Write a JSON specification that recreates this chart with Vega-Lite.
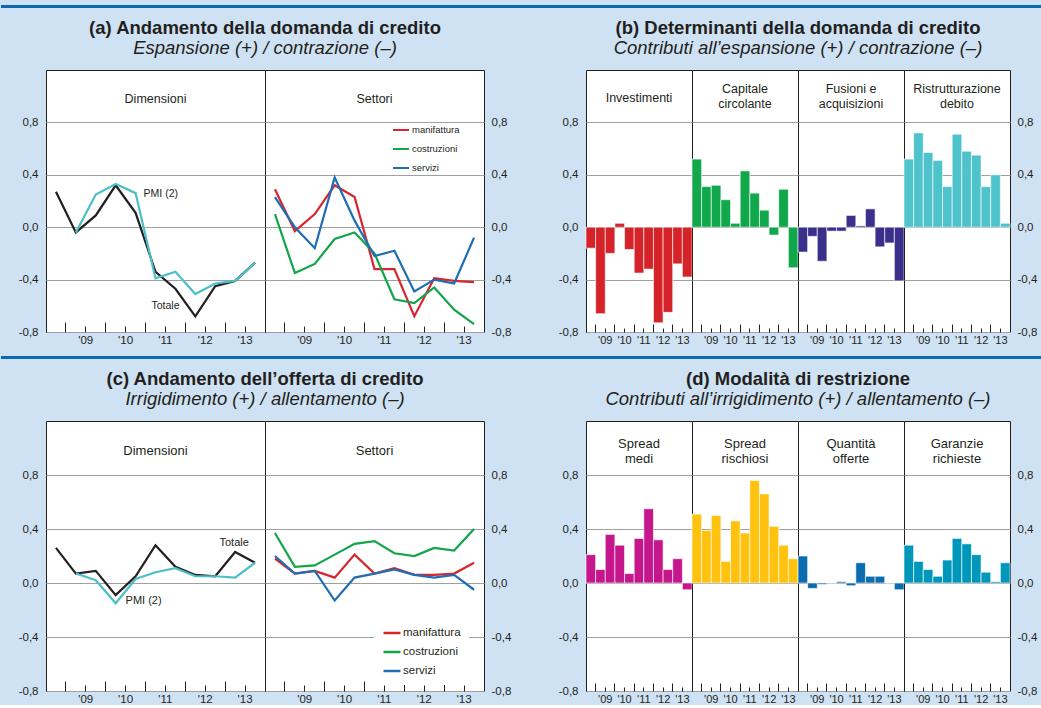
{
"$schema": "https://vega.github.io/schema/vega-lite/v6.json",
"background": "#cfe2f3",
"padding": {"left": 0, "right": 0, "top": 5, "bottom": 0},
"config": {
  "font": "Liberation Sans",
  "view": {"stroke": "#231f20", "strokeWidth": 1, "fill": "#ffffff"},
  "axis": {"labelColor": "#231f20", "labelFont": "Liberation Sans", "gridColor": "#a0a0a0", "gridWidth": 1, "tickColor": "#231f20", "tickWidth": 1},
  "text": {"color": "#231f20", "font": "Liberation Sans"},
  "legend": {"labelColor": "#231f20", "labelFont": "Liberation Sans"},
  "title": {"color": "#231f20", "subtitleColor": "#231f20", "font": "Liberation Sans", "subtitleFont": "Liberation Sans"}
},
"resolve": {"scale": {"color": "independent"}, "legend": {"color": "independent"}},
"datasets": {
  "a_dim": [
    {"s": "Totale", "t": 2008.75, "v": 0.27}, {"s": "Totale", "t": 2009.25, "v": -0.04}, {"s": "Totale", "t": 2009.75, "v": 0.09}, {"s": "Totale", "t": 2010.25, "v": 0.32}, {"s": "Totale", "t": 2010.75, "v": 0.11}, {"s": "Totale", "t": 2011.25, "v": -0.34}, {"s": "Totale", "t": 2011.75, "v": -0.47}, {"s": "Totale", "t": 2012.25, "v": -0.68}, {"s": "Totale", "t": 2012.75, "v": -0.45}, {"s": "Totale", "t": 2013.25, "v": -0.41}, {"s": "Totale", "t": 2013.75, "v": -0.27},
    {"s": "PMI (2)", "t": 2009.25, "v": -0.04}, {"s": "PMI (2)", "t": 2009.75, "v": 0.25}, {"s": "PMI (2)", "t": 2010.25, "v": 0.33}, {"s": "PMI (2)", "t": 2010.75, "v": 0.26}, {"s": "PMI (2)", "t": 2011.25, "v": -0.39}, {"s": "PMI (2)", "t": 2011.75, "v": -0.34}, {"s": "PMI (2)", "t": 2012.25, "v": -0.51}, {"s": "PMI (2)", "t": 2012.75, "v": -0.43}, {"s": "PMI (2)", "t": 2013.25, "v": -0.41}, {"s": "PMI (2)", "t": 2013.75, "v": -0.27}
  ],
  "a_set": [
    {"s": "manifattura", "t": 2008.75, "v": 0.29}, {"s": "manifattura", "t": 2009.25, "v": -0.03}, {"s": "manifattura", "t": 2009.75, "v": 0.10}, {"s": "manifattura", "t": 2010.25, "v": 0.32}, {"s": "manifattura", "t": 2010.75, "v": 0.23}, {"s": "manifattura", "t": 2011.25, "v": -0.32}, {"s": "manifattura", "t": 2011.75, "v": -0.32}, {"s": "manifattura", "t": 2012.25, "v": -0.68}, {"s": "manifattura", "t": 2012.75, "v": -0.39}, {"s": "manifattura", "t": 2013.25, "v": -0.41}, {"s": "manifattura", "t": 2013.75, "v": -0.42},
    {"s": "costruzioni", "t": 2008.75, "v": 0.10}, {"s": "costruzioni", "t": 2009.25, "v": -0.35}, {"s": "costruzioni", "t": 2009.75, "v": -0.28}, {"s": "costruzioni", "t": 2010.25, "v": -0.09}, {"s": "costruzioni", "t": 2010.75, "v": -0.04}, {"s": "costruzioni", "t": 2011.25, "v": -0.20}, {"s": "costruzioni", "t": 2011.75, "v": -0.55}, {"s": "costruzioni", "t": 2012.25, "v": -0.58}, {"s": "costruzioni", "t": 2012.75, "v": -0.46}, {"s": "costruzioni", "t": 2013.25, "v": -0.63}, {"s": "costruzioni", "t": 2013.75, "v": -0.74},
    {"s": "servizi", "t": 2008.75, "v": 0.23}, {"s": "servizi", "t": 2009.25, "v": 0.00}, {"s": "servizi", "t": 2009.75, "v": -0.16}, {"s": "servizi", "t": 2010.25, "v": 0.38}, {"s": "servizi", "t": 2010.75, "v": 0.05}, {"s": "servizi", "t": 2011.25, "v": -0.22}, {"s": "servizi", "t": 2011.75, "v": -0.18}, {"s": "servizi", "t": 2012.25, "v": -0.49}, {"s": "servizi", "t": 2012.75, "v": -0.40}, {"s": "servizi", "t": 2013.25, "v": -0.43}, {"s": "servizi", "t": 2013.75, "v": -0.08}
  ],
  "c_dim": [
    {"s": "Totale", "t": 2008.75, "v": 0.26}, {"s": "Totale", "t": 2009.25, "v": 0.07}, {"s": "Totale", "t": 2009.75, "v": 0.09}, {"s": "Totale", "t": 2010.25, "v": -0.09}, {"s": "Totale", "t": 2010.75, "v": 0.05}, {"s": "Totale", "t": 2011.25, "v": 0.28}, {"s": "Totale", "t": 2011.75, "v": 0.12}, {"s": "Totale", "t": 2012.25, "v": 0.06}, {"s": "Totale", "t": 2012.75, "v": 0.05}, {"s": "Totale", "t": 2013.25, "v": 0.23}, {"s": "Totale", "t": 2013.75, "v": 0.15},
    {"s": "PMI (2)", "t": 2009.25, "v": 0.07}, {"s": "PMI (2)", "t": 2009.75, "v": 0.02}, {"s": "PMI (2)", "t": 2010.25, "v": -0.15}, {"s": "PMI (2)", "t": 2010.75, "v": 0.03}, {"s": "PMI (2)", "t": 2011.25, "v": 0.08}, {"s": "PMI (2)", "t": 2011.75, "v": 0.11}, {"s": "PMI (2)", "t": 2012.25, "v": 0.05}, {"s": "PMI (2)", "t": 2012.75, "v": 0.05}, {"s": "PMI (2)", "t": 2013.25, "v": 0.04}, {"s": "PMI (2)", "t": 2013.75, "v": 0.15}
  ],
  "c_set": [
    {"s": "manifattura", "t": 2008.75, "v": 0.18}, {"s": "manifattura", "t": 2009.25, "v": 0.07}, {"s": "manifattura", "t": 2009.75, "v": 0.09}, {"s": "manifattura", "t": 2010.25, "v": 0.04}, {"s": "manifattura", "t": 2010.75, "v": 0.21}, {"s": "manifattura", "t": 2011.25, "v": 0.07}, {"s": "manifattura", "t": 2011.75, "v": 0.11}, {"s": "manifattura", "t": 2012.25, "v": 0.06}, {"s": "manifattura", "t": 2012.75, "v": 0.06}, {"s": "manifattura", "t": 2013.25, "v": 0.07}, {"s": "manifattura", "t": 2013.75, "v": 0.15},
    {"s": "costruzioni", "t": 2008.75, "v": 0.37}, {"s": "costruzioni", "t": 2009.25, "v": 0.12}, {"s": "costruzioni", "t": 2009.75, "v": 0.13}, {"s": "costruzioni", "t": 2010.25, "v": 0.21}, {"s": "costruzioni", "t": 2010.75, "v": 0.29}, {"s": "costruzioni", "t": 2011.25, "v": 0.31}, {"s": "costruzioni", "t": 2011.75, "v": 0.22}, {"s": "costruzioni", "t": 2012.25, "v": 0.20}, {"s": "costruzioni", "t": 2012.75, "v": 0.26}, {"s": "costruzioni", "t": 2013.25, "v": 0.24}, {"s": "costruzioni", "t": 2013.75, "v": 0.40},
    {"s": "servizi", "t": 2008.75, "v": 0.20}, {"s": "servizi", "t": 2009.25, "v": 0.07}, {"s": "servizi", "t": 2009.75, "v": 0.09}, {"s": "servizi", "t": 2010.25, "v": -0.13}, {"s": "servizi", "t": 2010.75, "v": 0.04}, {"s": "servizi", "t": 2011.25, "v": 0.07}, {"s": "servizi", "t": 2011.75, "v": 0.10}, {"s": "servizi", "t": 2012.25, "v": 0.06}, {"s": "servizi", "t": 2012.75, "v": 0.04}, {"s": "servizi", "t": 2013.25, "v": 0.06}, {"s": "servizi", "t": 2013.75, "v": -0.05}
  ],
  "b": [
    {"c": "Investimenti", "t": 2008.75, "v": -0.16}, {"c": "Investimenti", "t": 2009.25, "v": -0.66}, {"c": "Investimenti", "t": 2009.75, "v": -0.20}, {"c": "Investimenti", "t": 2010.25, "v": 0.03}, {"c": "Investimenti", "t": 2010.75, "v": -0.17}, {"c": "Investimenti", "t": 2011.25, "v": -0.35}, {"c": "Investimenti", "t": 2011.75, "v": -0.32}, {"c": "Investimenti", "t": 2012.25, "v": -0.73}, {"c": "Investimenti", "t": 2012.75, "v": -0.65}, {"c": "Investimenti", "t": 2013.25, "v": -0.28}, {"c": "Investimenti", "t": 2013.75, "v": -0.38},
    {"c": "Capitale circolante", "t": 2008.75, "v": 0.52}, {"c": "Capitale circolante", "t": 2009.25, "v": 0.31}, {"c": "Capitale circolante", "t": 2009.75, "v": 0.32}, {"c": "Capitale circolante", "t": 2010.25, "v": 0.21}, {"c": "Capitale circolante", "t": 2010.75, "v": 0.03}, {"c": "Capitale circolante", "t": 2011.25, "v": 0.43}, {"c": "Capitale circolante", "t": 2011.75, "v": 0.26}, {"c": "Capitale circolante", "t": 2012.25, "v": 0.13}, {"c": "Capitale circolante", "t": 2012.75, "v": -0.06}, {"c": "Capitale circolante", "t": 2013.25, "v": 0.29}, {"c": "Capitale circolante", "t": 2013.75, "v": -0.31},
    {"c": "Fusioni e acquisizioni", "t": 2008.75, "v": -0.19}, {"c": "Fusioni e acquisizioni", "t": 2009.25, "v": -0.07}, {"c": "Fusioni e acquisizioni", "t": 2009.75, "v": -0.26}, {"c": "Fusioni e acquisizioni", "t": 2010.25, "v": -0.03}, {"c": "Fusioni e acquisizioni", "t": 2010.75, "v": -0.03}, {"c": "Fusioni e acquisizioni", "t": 2011.25, "v": 0.09}, {"c": "Fusioni e acquisizioni", "t": 2011.75, "v": 0.01}, {"c": "Fusioni e acquisizioni", "t": 2012.25, "v": 0.14}, {"c": "Fusioni e acquisizioni", "t": 2012.75, "v": -0.15}, {"c": "Fusioni e acquisizioni", "t": 2013.25, "v": -0.12}, {"c": "Fusioni e acquisizioni", "t": 2013.75, "v": -0.41},
    {"c": "Ristrutturazione debito", "t": 2008.75, "v": 0.52}, {"c": "Ristrutturazione debito", "t": 2009.25, "v": 0.72}, {"c": "Ristrutturazione debito", "t": 2009.75, "v": 0.57}, {"c": "Ristrutturazione debito", "t": 2010.25, "v": 0.51}, {"c": "Ristrutturazione debito", "t": 2010.75, "v": 0.31}, {"c": "Ristrutturazione debito", "t": 2011.25, "v": 0.71}, {"c": "Ristrutturazione debito", "t": 2011.75, "v": 0.58}, {"c": "Ristrutturazione debito", "t": 2012.25, "v": 0.55}, {"c": "Ristrutturazione debito", "t": 2012.75, "v": 0.31}, {"c": "Ristrutturazione debito", "t": 2013.25, "v": 0.40}, {"c": "Ristrutturazione debito", "t": 2013.75, "v": 0.03}
  ],
  "d": [
    {"c": "Spread medi", "t": 2008.75, "v": 0.21}, {"c": "Spread medi", "t": 2009.25, "v": 0.10}, {"c": "Spread medi", "t": 2009.75, "v": 0.36}, {"c": "Spread medi", "t": 2010.25, "v": 0.28}, {"c": "Spread medi", "t": 2010.75, "v": 0.07}, {"c": "Spread medi", "t": 2011.25, "v": 0.33}, {"c": "Spread medi", "t": 2011.75, "v": 0.55}, {"c": "Spread medi", "t": 2012.25, "v": 0.32}, {"c": "Spread medi", "t": 2012.75, "v": 0.10}, {"c": "Spread medi", "t": 2013.25, "v": 0.18}, {"c": "Spread medi", "t": 2013.75, "v": -0.05},
    {"c": "Spread rischiosi", "t": 2008.75, "v": 0.51}, {"c": "Spread rischiosi", "t": 2009.25, "v": 0.39}, {"c": "Spread rischiosi", "t": 2009.75, "v": 0.50}, {"c": "Spread rischiosi", "t": 2010.25, "v": 0.16}, {"c": "Spread rischiosi", "t": 2010.75, "v": 0.46}, {"c": "Spread rischiosi", "t": 2011.25, "v": 0.37}, {"c": "Spread rischiosi", "t": 2011.75, "v": 0.76}, {"c": "Spread rischiosi", "t": 2012.25, "v": 0.66}, {"c": "Spread rischiosi", "t": 2012.75, "v": 0.42}, {"c": "Spread rischiosi", "t": 2013.25, "v": 0.28}, {"c": "Spread rischiosi", "t": 2013.75, "v": 0.18},
    {"c": "Quantità offerte", "t": 2008.75, "v": 0.20}, {"c": "Quantità offerte", "t": 2009.25, "v": -0.04}, {"c": "Quantità offerte", "t": 2009.75, "v": -0.01}, {"c": "Quantità offerte", "t": 2010.25, "v": 0.0}, {"c": "Quantità offerte", "t": 2010.75, "v": 0.01}, {"c": "Quantità offerte", "t": 2011.25, "v": -0.02}, {"c": "Quantità offerte", "t": 2011.75, "v": 0.15}, {"c": "Quantità offerte", "t": 2012.25, "v": 0.05}, {"c": "Quantità offerte", "t": 2012.75, "v": 0.05}, {"c": "Quantità offerte", "t": 2013.25, "v": 0.0}, {"c": "Quantità offerte", "t": 2013.75, "v": -0.05},
    {"c": "Garanzie richieste", "t": 2008.75, "v": 0.28}, {"c": "Garanzie richieste", "t": 2009.25, "v": 0.16}, {"c": "Garanzie richieste", "t": 2009.75, "v": 0.10}, {"c": "Garanzie richieste", "t": 2010.25, "v": 0.05}, {"c": "Garanzie richieste", "t": 2010.75, "v": 0.17}, {"c": "Garanzie richieste", "t": 2011.25, "v": 0.33}, {"c": "Garanzie richieste", "t": 2011.75, "v": 0.29}, {"c": "Garanzie richieste", "t": 2012.25, "v": 0.21}, {"c": "Garanzie richieste", "t": 2012.75, "v": 0.08}, {"c": "Garanzie richieste", "t": 2013.25, "v": 0.01}, {"c": "Garanzie richieste", "t": 2013.75, "v": 0.15}
  ]
},
"spacing": 10,
"vconcat": [
  {"width": 996, "height": 3, "view": {"fill": null, "stroke": null}, "data": {"values": [{}]}, "mark": {"type": "rect", "color": "#0b6aae"}, "encoding": {"x": {"datum": -0.0452, "type": "quantitative", "scale": {"domain": [0, 1], "nice": false, "zero": false}, "axis": null}, "x2": {"datum": 1}}},
  {"spacing": 0, "resolve": {"scale": {"color": "independent"}, "legend": {"color": "independent"}}, "hconcat": [
    {"title": {"text": "(a) Andamento della domanda di credito", "subtitle": "Espansione (+) / contrazione (–)", "anchor": "start", "align": "center", "dx": 219, "frame": "group", "fontSize": 18.5, "fontWeight": "bold", "subtitleFontSize": 18.5, "subtitleFontStyle": "italic", "subtitlePadding": 2, "offset": 12},
     "spacing": 0, "bounds": "flush", "resolve": {"scale": {"color": "independent"}, "legend": {"color": "independent"}}, "hconcat": [
      {"width": 219, "height": 262, "layer": [
        {"data": {"name": "a_dim"}, "mark": {"type": "line", "strokeWidth": 2.2},
         "encoding": {
           "x": {"field": "t", "type": "ordinal", "scale": {"type": "band", "paddingInner": 0, "paddingOuter": 0}, "axis": {"bandPosition": 0, "labelOffset": -10, "labelExpr": "datum.value % 1 == 0.75 && datum.value > 2009 ? \"'\" + format(floor(datum.value) % 100, '02d') : ''", "tickSize": {"condition": {"test": "datum.value % 1 == 0.25", "value": -10}, "value": -6}, "labelAngle": 0, "title": null, "domain": false, "grid": false, "labelPadding": 8, "labelFontSize": 11.5, "labelOverlap": false}},
           "y": {"field": "v", "type": "quantitative", "scale": {"domain": [-0.8, 1.2], "nice": false, "zero": false}, "axis": {"orient": "left", "values": [-0.8, -0.4, 0, 0.4, 0.8], "labelExpr": "(datum.value < 0 ? '-' : '') + replace(format(abs(datum.value), '.1f'), '.', ',')", "ticks": false, "domain": false, "grid": true, "title": null, "labelPadding": 8, "labelFontSize": 11.5, "minExtent": 45, "maxExtent": 45}},
           "color": {"field": "s", "type": "nominal", "scale": {"domain": ["Totale", "PMI (2)"], "range": ["#231f20", "#4dbfc7"]}, "legend": null}
         }},
        {"data": {"values": [{}]}, "mark": {"type": "text", "fontSize": 12.5, "baseline": "middle"}, "encoding": {"x": {"datum": 2011.25, "type": "ordinal"}, "y": {"datum": 0.98}, "text": {"value": "Dimensioni"}}},
        {"data": {"values": [{}]}, "mark": {"type": "text", "fontSize": 10.5, "align": "left", "baseline": "middle", "dx": 8}, "encoding": {"x": {"datum": 2010.75, "type": "ordinal"}, "y": {"datum": 0.25}, "text": {"value": "PMI (2)"}}},
        {"data": {"values": [{}]}, "mark": {"type": "text", "fontSize": 10.5, "align": "left", "baseline": "middle", "dx": -4}, "encoding": {"x": {"datum": 2011.25, "type": "ordinal"}, "y": {"datum": -0.6}, "text": {"value": "Totale"}}}
      ]},
      {"width": 219, "height": 262, "layer": [
        {"data": {"name": "a_set"}, "mark": {"type": "line", "strokeWidth": 2.2},
         "encoding": {
           "x": {"field": "t", "type": "ordinal", "scale": {"type": "band", "paddingInner": 0, "paddingOuter": 0}, "axis": {"bandPosition": 0, "labelOffset": -10, "labelExpr": "datum.value % 1 == 0.75 && datum.value > 2009 ? \"'\" + format(floor(datum.value) % 100, '02d') : ''", "tickSize": {"condition": {"test": "datum.value % 1 == 0.25", "value": -10}, "value": -6}, "labelAngle": 0, "title": null, "domain": false, "grid": false, "labelPadding": 8, "labelFontSize": 11.5, "labelOverlap": false}},
           "y": {"field": "v", "type": "quantitative", "scale": {"domain": [-0.8, 1.2], "nice": false, "zero": false}, "axis": {"orient": "right", "values": [-0.8, -0.4, 0, 0.4, 0.8], "labelExpr": "(datum.value < 0 ? '-' : '') + replace(format(abs(datum.value), '.1f'), '.', ',')", "ticks": false, "domain": false, "grid": true, "title": null, "labelPadding": 7, "labelFontSize": 11.5, "minExtent": 50, "maxExtent": 50}},
           "color": {"field": "s", "type": "nominal", "scale": {"domain": ["manifattura", "costruzioni", "servizi"], "range": ["#d7262e", "#13a54a", "#1f6db5"]}, "legend": {"orient": "none", "legendX": 127, "legendY": 51, "title": null, "symbolType": "stroke", "symbolStrokeWidth": 2, "symbolSize": 256, "labelFontSize": 9.5, "rowPadding": 5, "labelOffset": 2, "padding": 0}}
         }},
        {"data": {"values": [{}]}, "mark": {"type": "text", "fontSize": 12.5, "baseline": "middle"}, "encoding": {"x": {"datum": 2011.25, "type": "ordinal"}, "y": {"datum": 0.98}, "text": {"value": "Settori"}}}
      ]}
    ]},
    {"title": {"text": "(b) Determinanti della domanda di credito", "subtitle": "Contributi all’espansione (+) / contrazione (–)", "anchor": "start", "align": "center", "dx": 212, "frame": "group", "fontSize": 18.5, "fontWeight": "bold", "subtitleFontSize": 18.5, "subtitleFontStyle": "italic", "subtitlePadding": 2, "offset": 12},
     "spacing": 0, "bounds": "flush", "hconcat": [
      {"width": 106, "height": 262, "layer": [
        {"data": {"name": "b"}, "transform": [{"filter": "datum.c == 'Investimenti'"}], "mark": {"type": "bar", "color": "#d6232a", "stroke": "#ffffff", "strokeWidth": 1, "strokeOpacity": 0.6},
         "encoding": {
           "x": {"field": "t", "type": "ordinal", "scale": {"paddingInner": 0, "paddingOuter": 0}, "axis": {"bandPosition": 0, "labelOffset": -4.8, "labelExpr": "datum.value % 1 == 0.75 && datum.value > 2009 ? \"'\" + format(floor(datum.value) % 100, '02d') : ''", "tickSize": {"condition": {"test": "datum.value % 1 == 0.25", "value": -8}, "value": -4}, "labelAngle": 0, "title": null, "domain": false, "grid": false, "labelPadding": 6, "labelFontSize": 11, "labelOverlap": false}},
           "y": {"field": "v", "type": "quantitative", "scale": {"domain": [-0.8, 1.2], "nice": false, "zero": false}, "axis": {"orient": "left", "values": [-0.8, -0.4, 0, 0.4, 0.8], "labelExpr": "(datum.value < 0 ? '-' : '') + replace(format(abs(datum.value), '.1f'), '.', ',')", "ticks": false, "domain": false, "grid": true, "title": null, "labelPadding": 8, "labelFontSize": 11.5, "minExtent": 50, "maxExtent": 50}}
         }},
        {"data": {"values": [{}]}, "mark": {"type": "text", "fontSize": 12.5, "baseline": "middle"}, "encoding": {"x": {"datum": 2011.25, "type": "ordinal"}, "y": {"datum": 0.99}, "text": {"value": "Investimenti"}}}
      ]},
      {"width": 106, "height": 262, "layer": [
        {"data": {"name": "b"}, "transform": [{"filter": "datum.c == 'Capitale circolante'"}], "mark": {"type": "bar", "color": "#10a84b", "stroke": "#ffffff", "strokeWidth": 1, "strokeOpacity": 0.6},
         "encoding": {
           "x": {"field": "t", "type": "ordinal", "scale": {"paddingInner": 0, "paddingOuter": 0}, "axis": {"bandPosition": 0, "labelOffset": -4.8, "labelExpr": "datum.value % 1 == 0.75 && datum.value > 2009 ? \"'\" + format(floor(datum.value) % 100, '02d') : ''", "tickSize": {"condition": {"test": "datum.value % 1 == 0.25", "value": -8}, "value": -4}, "labelAngle": 0, "title": null, "domain": false, "grid": false, "labelPadding": 6, "labelFontSize": 11, "labelOverlap": false}},
           "y": {"field": "v", "type": "quantitative", "scale": {"domain": [-0.8, 1.2], "nice": false, "zero": false}, "axis": {"values": [-0.8, -0.4, 0, 0.4, 0.8], "labels": false, "ticks": false, "domain": false, "grid": true, "title": null, "minExtent": 0, "maxExtent": 0}}
         }},
        {"data": {"values": [{}]}, "mark": {"type": "text", "fontSize": 12.5, "baseline": "middle", "lineHeight": 15}, "encoding": {"x": {"datum": 2011.25, "type": "ordinal"}, "y": {"datum": 1.055}, "text": {"value": ["Capitale", "circolante"]}}}
      ]},
      {"width": 106, "height": 262, "layer": [
        {"data": {"name": "b"}, "transform": [{"filter": "datum.c == 'Fusioni e acquisizioni'"}], "mark": {"type": "bar", "color": "#3b2f8c", "stroke": "#ffffff", "strokeWidth": 1, "strokeOpacity": 0.6},
         "encoding": {
           "x": {"field": "t", "type": "ordinal", "scale": {"paddingInner": 0, "paddingOuter": 0}, "axis": {"bandPosition": 0, "labelOffset": -4.8, "labelExpr": "datum.value % 1 == 0.75 && datum.value > 2009 ? \"'\" + format(floor(datum.value) % 100, '02d') : ''", "tickSize": {"condition": {"test": "datum.value % 1 == 0.25", "value": -8}, "value": -4}, "labelAngle": 0, "title": null, "domain": false, "grid": false, "labelPadding": 6, "labelFontSize": 11, "labelOverlap": false}},
           "y": {"field": "v", "type": "quantitative", "scale": {"domain": [-0.8, 1.2], "nice": false, "zero": false}, "axis": {"values": [-0.8, -0.4, 0, 0.4, 0.8], "labels": false, "ticks": false, "domain": false, "grid": true, "title": null, "minExtent": 0, "maxExtent": 0}}
         }},
        {"data": {"values": [{}]}, "mark": {"type": "text", "fontSize": 12.5, "baseline": "middle", "lineHeight": 15}, "encoding": {"x": {"datum": 2011.25, "type": "ordinal"}, "y": {"datum": 1.055}, "text": {"value": ["Fusioni e", "acquisizioni"]}}}
      ]},
      {"width": 106, "height": 262, "layer": [
        {"data": {"name": "b"}, "transform": [{"filter": "datum.c == 'Ristrutturazione debito'"}], "mark": {"type": "bar", "color": "#4ec3cb", "stroke": "#ffffff", "strokeWidth": 1, "strokeOpacity": 0.6},
         "encoding": {
           "x": {"field": "t", "type": "ordinal", "scale": {"paddingInner": 0, "paddingOuter": 0}, "axis": {"bandPosition": 0, "labelOffset": -4.8, "labelExpr": "datum.value % 1 == 0.75 && datum.value > 2009 ? \"'\" + format(floor(datum.value) % 100, '02d') : ''", "tickSize": {"condition": {"test": "datum.value % 1 == 0.25", "value": -8}, "value": -4}, "labelAngle": 0, "title": null, "domain": false, "grid": false, "labelPadding": 6, "labelFontSize": 11, "labelOverlap": false}},
           "y": {"field": "v", "type": "quantitative", "scale": {"domain": [-0.8, 1.2], "nice": false, "zero": false}, "axis": {"orient": "right", "values": [-0.8, -0.4, 0, 0.4, 0.8], "labelExpr": "(datum.value < 0 ? '-' : '') + replace(format(abs(datum.value), '.1f'), '.', ',')", "ticks": false, "domain": false, "grid": true, "title": null, "labelPadding": 7, "labelFontSize": 11.5, "minExtent": 30, "maxExtent": 30}}
         }},
        {"data": {"values": [{}]}, "mark": {"type": "text", "fontSize": 12.5, "baseline": "middle", "lineHeight": 15}, "encoding": {"x": {"datum": 2011.25, "type": "ordinal"}, "y": {"datum": 1.055}, "text": {"value": ["Ristrutturazione", "debito"]}}}
      ]}
    ]}
  ]},
  {"width": 996, "height": 3, "view": {"fill": null, "stroke": null}, "data": {"values": [{}]}, "mark": {"type": "rect", "color": "#0b6aae"}, "encoding": {"x": {"datum": -0.0452, "type": "quantitative", "scale": {"domain": [0, 1], "nice": false, "zero": false}, "axis": null}, "x2": {"datum": 1}}},
  {"spacing": 0, "resolve": {"scale": {"color": "independent"}, "legend": {"color": "independent"}}, "hconcat": [
    {"title": {"text": "(c) Andamento dell’offerta di credito", "subtitle": "Irrigidimento (+) / allentamento (–)", "anchor": "start", "align": "center", "dx": 219, "frame": "group", "fontSize": 18.5, "fontWeight": "bold", "subtitleFontSize": 18.5, "subtitleFontStyle": "italic", "subtitlePadding": 2, "offset": 12},
     "spacing": 0, "bounds": "flush", "resolve": {"scale": {"color": "independent"}, "legend": {"color": "independent"}}, "hconcat": [
      {"width": 219, "height": 270, "layer": [
        {"data": {"name": "c_dim"}, "mark": {"type": "line", "strokeWidth": 2.2},
         "encoding": {
           "x": {"field": "t", "type": "ordinal", "scale": {"type": "band", "paddingInner": 0, "paddingOuter": 0}, "axis": {"bandPosition": 0, "labelOffset": -10, "labelExpr": "datum.value % 1 == 0.75 && datum.value > 2009 ? \"'\" + format(floor(datum.value) % 100, '02d') : ''", "tickSize": {"condition": {"test": "datum.value % 1 == 0.25", "value": -10}, "value": -6}, "labelAngle": 0, "title": null, "domain": false, "grid": false, "labelPadding": 8, "labelFontSize": 11.5, "labelOverlap": false}},
           "y": {"field": "v", "type": "quantitative", "scale": {"domain": [-0.8, 1.2], "nice": false, "zero": false}, "axis": {"orient": "left", "values": [-0.8, -0.4, 0, 0.4, 0.8], "labelExpr": "(datum.value < 0 ? '-' : '') + replace(format(abs(datum.value), '.1f'), '.', ',')", "ticks": false, "domain": false, "grid": true, "title": null, "labelPadding": 8, "labelFontSize": 11.5, "minExtent": 45, "maxExtent": 45}},
           "color": {"field": "s", "type": "nominal", "scale": {"domain": ["Totale", "PMI (2)"], "range": ["#231f20", "#4dbfc7"]}, "legend": null}
         }},
        {"data": {"values": [{}]}, "mark": {"type": "text", "fontSize": 13, "baseline": "middle"}, "encoding": {"x": {"datum": 2011.25, "type": "ordinal"}, "y": {"datum": 0.98}, "text": {"value": "Dimensioni"}}},
        {"data": {"values": [{}]}, "mark": {"type": "text", "fontSize": 11, "align": "left", "baseline": "middle", "dx": -10}, "encoding": {"x": {"datum": 2010.75, "type": "ordinal"}, "y": {"datum": -0.135}, "text": {"value": "PMI (2)"}}},
        {"data": {"values": [{}]}, "mark": {"type": "text", "fontSize": 11, "align": "center", "baseline": "middle", "dx": -1}, "encoding": {"x": {"datum": 2013.25, "type": "ordinal"}, "y": {"datum": 0.3}, "text": {"value": "Totale"}}}
      ]},
      {"width": 219, "height": 270, "layer": [
        {"data": {"name": "c_set"}, "mark": {"type": "line", "strokeWidth": 2.2},
         "encoding": {
           "x": {"field": "t", "type": "ordinal", "scale": {"type": "band", "paddingInner": 0, "paddingOuter": 0}, "axis": {"bandPosition": 0, "labelOffset": -10, "labelExpr": "datum.value % 1 == 0.75 && datum.value > 2009 ? \"'\" + format(floor(datum.value) % 100, '02d') : ''", "tickSize": {"condition": {"test": "datum.value % 1 == 0.25", "value": -10}, "value": -6}, "labelAngle": 0, "title": null, "domain": false, "grid": false, "labelPadding": 8, "labelFontSize": 11.5, "labelOverlap": false}},
           "y": {"field": "v", "type": "quantitative", "scale": {"domain": [-0.8, 1.2], "nice": false, "zero": false}, "axis": {"orient": "right", "values": [-0.8, -0.4, 0, 0.4, 0.8], "labelExpr": "(datum.value < 0 ? '-' : '') + replace(format(abs(datum.value), '.1f'), '.', ',')", "ticks": false, "domain": false, "grid": true, "title": null, "labelPadding": 7, "labelFontSize": 11.5, "minExtent": 50, "maxExtent": 50}},
           "color": {"field": "s", "type": "nominal", "scale": {"domain": ["manifattura", "costruzioni", "servizi"], "range": ["#d7262e", "#13a54a", "#1f6db5"]}, "legend": {"orient": "none", "legendX": 109, "legendY": 194, "title": null, "symbolType": "stroke", "symbolStrokeWidth": 2.5, "symbolSize": 289, "labelFontSize": 11.5, "rowPadding": 3, "labelOffset": 1, "padding": 8, "fillColor": "#ffffff"}}
         }},
        {"data": {"values": [{}]}, "mark": {"type": "text", "fontSize": 13, "baseline": "middle"}, "encoding": {"x": {"datum": 2011.25, "type": "ordinal"}, "y": {"datum": 0.98}, "text": {"value": "Settori"}}}
      ]}
    ]},
    {"title": {"text": "(d) Modalità di restrizione", "subtitle": "Contributi all’irrigidimento (+) / allentamento (–)", "anchor": "start", "align": "center", "dx": 212, "frame": "group", "fontSize": 18.5, "fontWeight": "bold", "subtitleFontSize": 18.5, "subtitleFontStyle": "italic", "subtitlePadding": 2, "offset": 12},
     "spacing": 0, "bounds": "flush", "hconcat": [
      {"width": 106, "height": 270, "layer": [
        {"data": {"name": "d"}, "transform": [{"filter": "datum.c == 'Spread medi'"}], "mark": {"type": "bar", "color": "#c5168c", "stroke": "#ffffff", "strokeWidth": 1, "strokeOpacity": 0.6},
         "encoding": {
           "x": {"field": "t", "type": "ordinal", "scale": {"paddingInner": 0, "paddingOuter": 0}, "axis": {"bandPosition": 0, "labelOffset": -4.8, "labelExpr": "datum.value % 1 == 0.75 && datum.value > 2009 ? \"'\" + format(floor(datum.value) % 100, '02d') : ''", "tickSize": {"condition": {"test": "datum.value % 1 == 0.25", "value": -8}, "value": -4}, "labelAngle": 0, "title": null, "domain": false, "grid": false, "labelPadding": 6, "labelFontSize": 11, "labelOverlap": false}},
           "y": {"field": "v", "type": "quantitative", "scale": {"domain": [-0.8, 1.2], "nice": false, "zero": false}, "axis": {"orient": "left", "values": [-0.8, -0.4, 0, 0.4, 0.8], "labelExpr": "(datum.value < 0 ? '-' : '') + replace(format(abs(datum.value), '.1f'), '.', ',')", "ticks": false, "domain": false, "grid": true, "title": null, "labelPadding": 8, "labelFontSize": 11.5, "minExtent": 50, "maxExtent": 50}}
         }},
        {"data": {"values": [{}]}, "mark": {"type": "text", "fontSize": 13, "baseline": "middle", "lineHeight": 15.5}, "encoding": {"x": {"datum": 2011.25, "type": "ordinal"}, "y": {"datum": 1.03}, "text": {"value": ["Spread", "medi"]}}}
      ]},
      {"width": 106, "height": 270, "layer": [
        {"data": {"name": "d"}, "transform": [{"filter": "datum.c == 'Spread rischiosi'"}], "mark": {"type": "bar", "color": "#ffc20f", "stroke": "#ffffff", "strokeWidth": 1, "strokeOpacity": 0.6},
         "encoding": {
           "x": {"field": "t", "type": "ordinal", "scale": {"paddingInner": 0, "paddingOuter": 0}, "axis": {"bandPosition": 0, "labelOffset": -4.8, "labelExpr": "datum.value % 1 == 0.75 && datum.value > 2009 ? \"'\" + format(floor(datum.value) % 100, '02d') : ''", "tickSize": {"condition": {"test": "datum.value % 1 == 0.25", "value": -8}, "value": -4}, "labelAngle": 0, "title": null, "domain": false, "grid": false, "labelPadding": 6, "labelFontSize": 11, "labelOverlap": false}},
           "y": {"field": "v", "type": "quantitative", "scale": {"domain": [-0.8, 1.2], "nice": false, "zero": false}, "axis": {"values": [-0.8, -0.4, 0, 0.4, 0.8], "labels": false, "ticks": false, "domain": false, "grid": true, "title": null, "minExtent": 0, "maxExtent": 0}}
         }},
        {"data": {"values": [{}]}, "mark": {"type": "text", "fontSize": 13, "baseline": "middle", "lineHeight": 15.5}, "encoding": {"x": {"datum": 2011.25, "type": "ordinal"}, "y": {"datum": 1.03}, "text": {"value": ["Spread", "rischiosi"]}}}
      ]},
      {"width": 106, "height": 270, "layer": [
        {"data": {"name": "d"}, "transform": [{"filter": "datum.c == 'Quantità offerte'"}], "mark": {"type": "bar", "color": "#0a6db0", "stroke": "#ffffff", "strokeWidth": 1, "strokeOpacity": 0.6},
         "encoding": {
           "x": {"field": "t", "type": "ordinal", "scale": {"paddingInner": 0, "paddingOuter": 0}, "axis": {"bandPosition": 0, "labelOffset": -4.8, "labelExpr": "datum.value % 1 == 0.75 && datum.value > 2009 ? \"'\" + format(floor(datum.value) % 100, '02d') : ''", "tickSize": {"condition": {"test": "datum.value % 1 == 0.25", "value": -8}, "value": -4}, "labelAngle": 0, "title": null, "domain": false, "grid": false, "labelPadding": 6, "labelFontSize": 11, "labelOverlap": false}},
           "y": {"field": "v", "type": "quantitative", "scale": {"domain": [-0.8, 1.2], "nice": false, "zero": false}, "axis": {"values": [-0.8, -0.4, 0, 0.4, 0.8], "labels": false, "ticks": false, "domain": false, "grid": true, "title": null, "minExtent": 0, "maxExtent": 0}}
         }},
        {"data": {"values": [{}]}, "mark": {"type": "text", "fontSize": 13, "baseline": "middle", "lineHeight": 15.5}, "encoding": {"x": {"datum": 2011.25, "type": "ordinal"}, "y": {"datum": 1.03}, "text": {"value": ["Quantità", "offerte"]}}}
      ]},
      {"width": 106, "height": 270, "layer": [
        {"data": {"name": "d"}, "transform": [{"filter": "datum.c == 'Garanzie richieste'"}], "mark": {"type": "bar", "color": "#0098ba", "stroke": "#ffffff", "strokeWidth": 1, "strokeOpacity": 0.6},
         "encoding": {
           "x": {"field": "t", "type": "ordinal", "scale": {"paddingInner": 0, "paddingOuter": 0}, "axis": {"bandPosition": 0, "labelOffset": -4.8, "labelExpr": "datum.value % 1 == 0.75 && datum.value > 2009 ? \"'\" + format(floor(datum.value) % 100, '02d') : ''", "tickSize": {"condition": {"test": "datum.value % 1 == 0.25", "value": -8}, "value": -4}, "labelAngle": 0, "title": null, "domain": false, "grid": false, "labelPadding": 6, "labelFontSize": 11, "labelOverlap": false}},
           "y": {"field": "v", "type": "quantitative", "scale": {"domain": [-0.8, 1.2], "nice": false, "zero": false}, "axis": {"orient": "right", "values": [-0.8, -0.4, 0, 0.4, 0.8], "labelExpr": "(datum.value < 0 ? '-' : '') + replace(format(abs(datum.value), '.1f'), '.', ',')", "ticks": false, "domain": false, "grid": true, "title": null, "labelPadding": 7, "labelFontSize": 11.5, "minExtent": 30, "maxExtent": 30}}
         }},
        {"data": {"values": [{}]}, "mark": {"type": "text", "fontSize": 13, "baseline": "middle", "lineHeight": 15.5}, "encoding": {"x": {"datum": 2011.25, "type": "ordinal"}, "y": {"datum": 1.03}, "text": {"value": ["Garanzie", "richieste"]}}}
      ]}
    ]}
  ]}
]
}
